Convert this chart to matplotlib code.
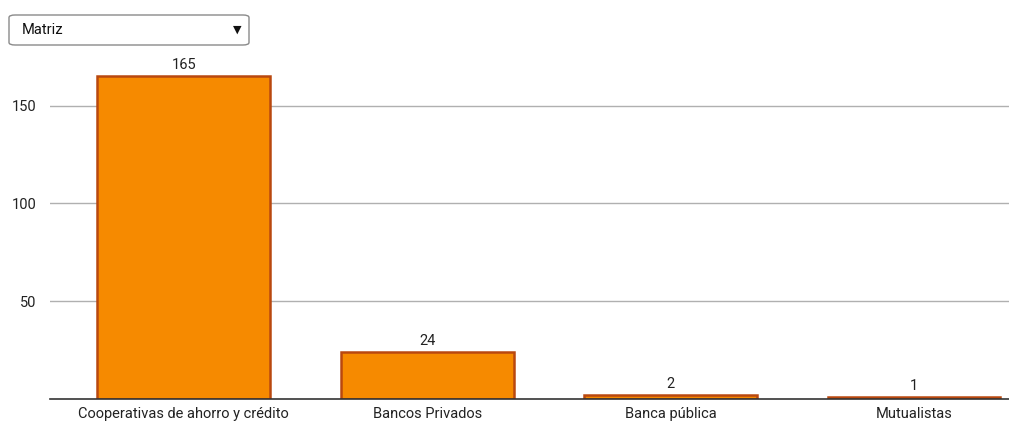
import matplotlib
matplotlib.use('Agg')
import matplotlib.pyplot as plt
from matplotlib.patches import FancyBboxPatch

plt.rcParams['font.family'] = ['Roboto', 'DejaVu Sans']

categories = ['Cooperativas de ahorro y crédito', 'Bancos Privados', 'Banca pública', 'Mutualistas']
values = [165, 24, 2, 1]
yticks = [50, 100, 150]
dropdown_label = 'Matriz'

W, H = 1009, 421
fig = plt.figure(figsize=(W / 100, H / 100), dpi=100)

# plot area in pixel terms
left_px, right_px, base_px, top_px = 50, 1009, 399, 46
ax = fig.add_axes([left_px / W, (H - base_px) / H, (right_px - left_px) / W, (base_px - top_px) / H])

x = range(len(categories))
bars = ax.bar(x, values, width=0.71, color='#f68a00', edgecolor='#b9480f', linewidth=1.8, zorder=3)
for b, v in zip(bars, values):
    ax.annotate(str(v), (b.get_x() + b.get_width() / 2, v), xytext=(0, 3),
                textcoords='offset points', ha='center', va='bottom',
                fontsize=10.5, color='#222222')

ax.set_xlim(-0.549, 3.39)
ax.set_ylim(0, 180.5)
ax.set_yticks(yticks)
ax.set_yticklabels([str(t) for t in yticks], fontsize=10.5, color='#222222')
ax.set_xticks(list(x))
ax.set_xticklabels(categories, fontsize=10.5, color='#222222')
ax.tick_params(axis='both', length=0)
ax.tick_params(axis='y', pad=10)
ax.tick_params(axis='x', pad=6)
ax.grid(axis='y', color='#b0b0b0', linewidth=1, zorder=0)
for s in ['top', 'right', 'left']:
    ax.spines[s].set_visible(False)
ax.spines['bottom'].set_color('#333333')
ax.spines['bottom'].set_linewidth(1.2)
ax.spines['bottom'].set_zorder(4)

# dropdown box
box = FancyBboxPatch((9 / W, (H - 45) / H), 240 / W, 30 / H,
                     boxstyle='round,pad=0,rounding_size=0.006',
                     transform=fig.transFigure, facecolor='white',
                     edgecolor='#8a8a8a', linewidth=1)
fig.patches.append(box)
fig.text(22 / W, (H - 30) / H, dropdown_label, fontsize=10.5, va='center', ha='left', color='#111111')
fig.text(237 / W, (H - 30) / H, '▼', fontsize=8, va='center', ha='center', color='#111111',
         family=['DejaVu Sans'])

fig.savefig('out.png', dpi=100)
